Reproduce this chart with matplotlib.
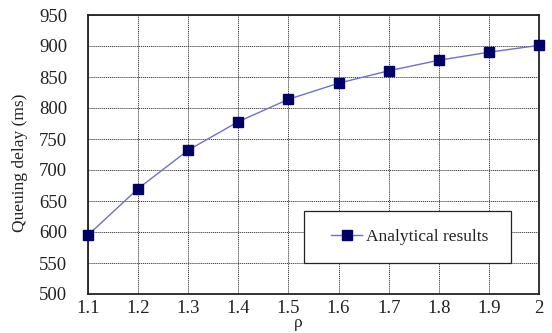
import matplotlib.pyplot as plt
from matplotlib.patches import Rectangle

# data
rho = [1.1, 1.2, 1.3, 1.4, 1.5, 1.6, 1.7, 1.8, 1.9, 2.0]
delay = [595, 670, 732, 778, 814, 840, 860, 877, 890, 901]
xticks = [1.1, 1.2, 1.3, 1.4, 1.5, 1.6, 1.7, 1.8, 1.9, 2.0]
xticklabels = ['1.1', '1.2', '1.3', '1.4', '1.5', '1.6', '1.7', '1.8', '1.9', '2']
yticks = [500, 550, 600, 650, 700, 750, 800, 850, 900, 950]

plt.rcParams['font.family'] = ['Liberation Serif', 'DejaVu Serif']
plt.rcParams['font.size'] = 12.5

fig = plt.figure(figsize=(5.52, 3.33), dpi=100)
ax = fig.add_axes([88 / 552, 39 / 333, 451 / 552, 279 / 333])

ax.plot(rho, delay, color='#6f6fd0', linewidth=1.0, marker='s', markersize=7,
        markerfacecolor='#000066', markeredgecolor='#000066', label='Analytical results',
        clip_on=False, zorder=3)

ax.set_xlim(1.1, 2.0)
ax.set_ylim(500, 950)
ax.set_xticks(xticks)
ax.set_xticklabels(xticklabels)
ax.set_yticks(yticks)
ax.tick_params(length=0, labelcolor='#222222', labelsize=13.5)
ax.tick_params(axis='y', pad=15)
ax.tick_params(axis='x', pad=4)
ax.grid(True, color='#444444', linestyle=(0, (1.2, 0.8)), linewidth=0.7)
for s in ax.spines.values():
    s.set_linewidth(1.3)
    s.set_color('#222222')

ax.set_ylabel('Queuing delay (ms)', color='#222222')
ax.yaxis.set_label_coords(-0.133, 0.47)
ax.set_xlabel('ρ', color='#222222')
ax.xaxis.set_label_coords(0.466, -0.075)

# legend box drawn separately so the entry can sit centred inside it
box = Rectangle((0.479, 0.111), 0.459, 0.186, transform=ax.transAxes,
                facecolor='white', edgecolor='#222222', linewidth=0.9, zorder=4)
ax.add_patch(box)
leg = ax.legend(loc='center', bbox_to_anchor=(0.479 + 0.459 / 2 + 0.005, 0.111 + 0.093),
                frameon=False, handlelength=1.8, handletextpad=0.2, borderaxespad=0)
leg.set_zorder(5)
for t in leg.get_texts():
    t.set_color('#222222')

fig.savefig('out.png', dpi=100)
